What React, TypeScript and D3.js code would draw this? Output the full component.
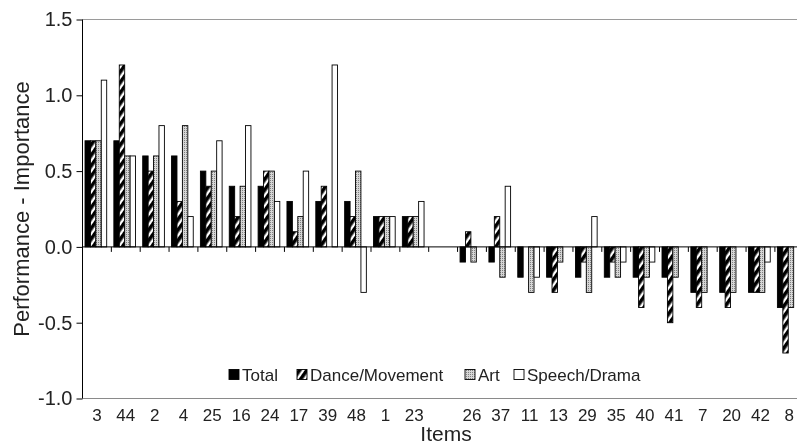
import { useEffect, useRef } from 'react'
import * as d3 from 'd3'

// item labels, '' marks the empty slot between the two blocks
const items = ['3', '44', '2', '4', '25', '16', '24', '17', '39', '48', '1', '23', '', '26', '37', '11', '13', '29', '35', '40', '41', '7', '20', '42', '8']

const total = [0.7, 0.7, 0.6, 0.6, 0.5, 0.4, 0.4, 0.3, 0.3, 0.3, 0.2, 0.2, null, -0.1, -0.1, -0.2, -0.2, -0.2, -0.2, -0.2, -0.2, -0.3, -0.3, -0.3, -0.4]
const dance = [0.7, 1.2, 0.5, 0.3, 0.4, 0.2, 0.5, 0.1, 0.4, 0.2, 0.2, 0.2, null, 0.1, 0.2, 0, -0.3, -0.1, -0.1, -0.4, -0.5, -0.4, -0.4, -0.3, -0.7]
const art = [0.7, 0.6, 0.6, 0.8, 0.5, 0.4, 0.5, 0.2, 0, 0.5, 0.2, 0.2, null, -0.1, -0.2, -0.3, -0.1, -0.3, -0.2, -0.2, -0.2, -0.3, -0.3, -0.3, -0.4]
const speech = [1.1, 0.6, 0.8, 0.2, 0.7, 0.8, 0.3, 0.5, 1.2, -0.3, 0.2, 0.3, null, 0, 0.4, -0.2, 0, 0.2, -0.1, -0.1, 0, 0, 0, -0.1, null]

const seriesNames = ['Total', 'Dance/Movement', 'Art', 'Speech/Drama']
const yTicks = [-1.0, -0.5, 0.0, 0.5, 1.0, 1.5]

const FONT = '"Liberation Sans", Arial, sans-serif'

export default function App() {
  const svgRef = useRef<SVGSVGElement>(null)

  useEffect(() => {
    if (!svgRef.current) return
    const width = 797
    const height = 448

    const svg = d3.select(svgRef.current)
    svg.selectAll('*').remove()
    svg.attr('width', width).attr('height', height)

    const series = [total, dance, art, speech]
    const fills = ['#000', 'url(#hatch)', 'url(#dots)', '#fff']

    // patterns
    const defs = svg.append('defs')
    const hatch = defs.append('pattern')
      .attr('id', 'hatch')
      .attr('patternUnits', 'userSpaceOnUse')
      .attr('width', 6).attr('height', 6)
      .attr('patternTransform', 'rotate(35)')
    hatch.append('rect').attr('width', 6).attr('height', 6).attr('fill', '#fff')
    hatch.append('rect').attr('width', 3.6).attr('height', 6).attr('fill', '#000')

    const dots = defs.append('pattern')
      .attr('id', 'dots')
      .attr('patternUnits', 'userSpaceOnUse')
      .attr('width', 2).attr('height', 2)
    dots.append('rect').attr('width', 2).attr('height', 2).attr('fill', '#d6d6d6')
    dots.append('rect').attr('width', 1).attr('height', 1).attr('fill', '#808080')

    const left = 82.5
    const step = 28.85
    const y = d3.scaleLinear().domain([-1, 1.5]).range([398.5, 19.5])
    const x0 = d3.scaleBand<number>()
      .domain(d3.range(items.length))
      .range([left, left + step * items.length])
      .paddingInner(0).paddingOuter(0)
    const x1 = d3.scaleBand<number>()
      .domain(d3.range(seriesNames.length))
      .range([0, x0.bandwidth()])
      .paddingInner(0).paddingOuter(0.66).align(0.35)

    const clip = defs.append('clipPath').attr('id', 'plot')
    clip.append('rect').attr('x', left).attr('y', 0).attr('width', width - left).attr('height', height)

    // frame
    svg.append('line').attr('x1', left).attr('x2', width).attr('y1', y(1.5)).attr('y2', y(1.5))
      .attr('stroke', '#9a9a9a').attr('stroke-width', 1.2)
    svg.append('line').attr('x1', left).attr('x2', width).attr('y1', y(-1)).attr('y2', y(-1))
      .attr('stroke', '#8a8a8a').attr('stroke-width', 1.2)

    // bars
    const g = svg.append('g').attr('clip-path', 'url(#plot)')
    series.forEach((vals, si) => {
      g.append('g').selectAll('rect')
        .data(vals.map((v, i) => ({ v, i })).filter(d => d.v !== null && d.v !== 0))
        .enter().append('rect')
        .attr('x', d => (x0(d.i) || 0) + (x1(si) || 0))
        .attr('width', x1.bandwidth())
        .attr('y', d => y(Math.max(0, d.v as number)))
        .attr('height', d => Math.abs(y(d.v as number) - y(0)))
        .attr('fill', fills[si])
        .attr('stroke', '#000')
        .attr('stroke-width', 0.9)
    })

    // zero axis with ticks between items
    const zero = svg.append('g').attr('transform', `translate(0,${y(0)})`)
    zero.append('line').attr('x1', left).attr('x2', width).attr('stroke', '#000').attr('stroke-width', 1)
    zero.selectAll('line.t')
      .data(d3.range(1, items.length))
      .enter().append('line')
      .attr('class', 't')
      .attr('x1', d => x0(d) || 0).attr('x2', d => x0(d) || 0)
      .attr('y1', 0).attr('y2', 5)
      .attr('stroke', '#000').attr('stroke-width', 1)

    // y axis
    const yAxis = svg.append('g').attr('transform', `translate(${left},0)`)
      .call(d3.axisLeft(y).tickValues(yTicks).tickFormat(d => (+d).toFixed(1)).tickSize(6).tickPadding(4))
    yAxis.select('.domain').attr('stroke', '#000').attr('d', `M0,${y(1.5)}V${y(-1)}`)
    yAxis.selectAll('line').attr('stroke', '#000')
    yAxis.selectAll('text')
      .attr('font-family', FONT).attr('font-size', 20).attr('fill', '#222')
    yAxis.attr('font-family', null)

    // item labels
    svg.append('g').selectAll('text')
      .data(items.map((t, i) => ({ t, i })).filter(d => d.t !== ''))
      .enter().append('text')
      .attr('x', d => (x0(d.i) || 0) + x0.bandwidth() / 2)
      .attr('y', 420.5)
      .attr('text-anchor', 'middle')
      .attr('font-family', FONT).attr('font-size', 17).attr('fill', '#222')
      .text(d => d.t)

    // axis titles
    svg.append('text')
      .attr('x', 446).attr('y', 441)
      .attr('text-anchor', 'middle')
      .attr('font-family', FONT).attr('font-size', 21).attr('fill', '#222')
      .text('Items')
    svg.append('text')
      .attr('transform', `translate(29,${y(0.25)}) rotate(-90)`)
      .attr('text-anchor', 'middle')
      .attr('font-family', FONT).attr('font-size', 22).attr('fill', '#222')
      .text('Performance - Importance')

    // legend
    const legendX = [229, 297, 465, 514]
    const legend = svg.append('g')
    seriesNames.forEach((name, si) => {
      legend.append('rect')
        .attr('x', legendX[si]).attr('y', 369.5)
        .attr('width', 10).attr('height', 10)
        .attr('fill', fills[si]).attr('stroke', '#000').attr('stroke-width', 0.9)
      legend.append('text')
        .attr('x', legendX[si] + 13).attr('y', 380.5)
        .attr('font-family', FONT).attr('font-size', 17).attr('fill', '#222')
        .text(name)
    })
  }, [])

  return (
    <div style={{ position: 'fixed', left: 0, top: 0 }}>
      <svg ref={svgRef} style={{ display: 'block' }} />
    </div>
  )
}
